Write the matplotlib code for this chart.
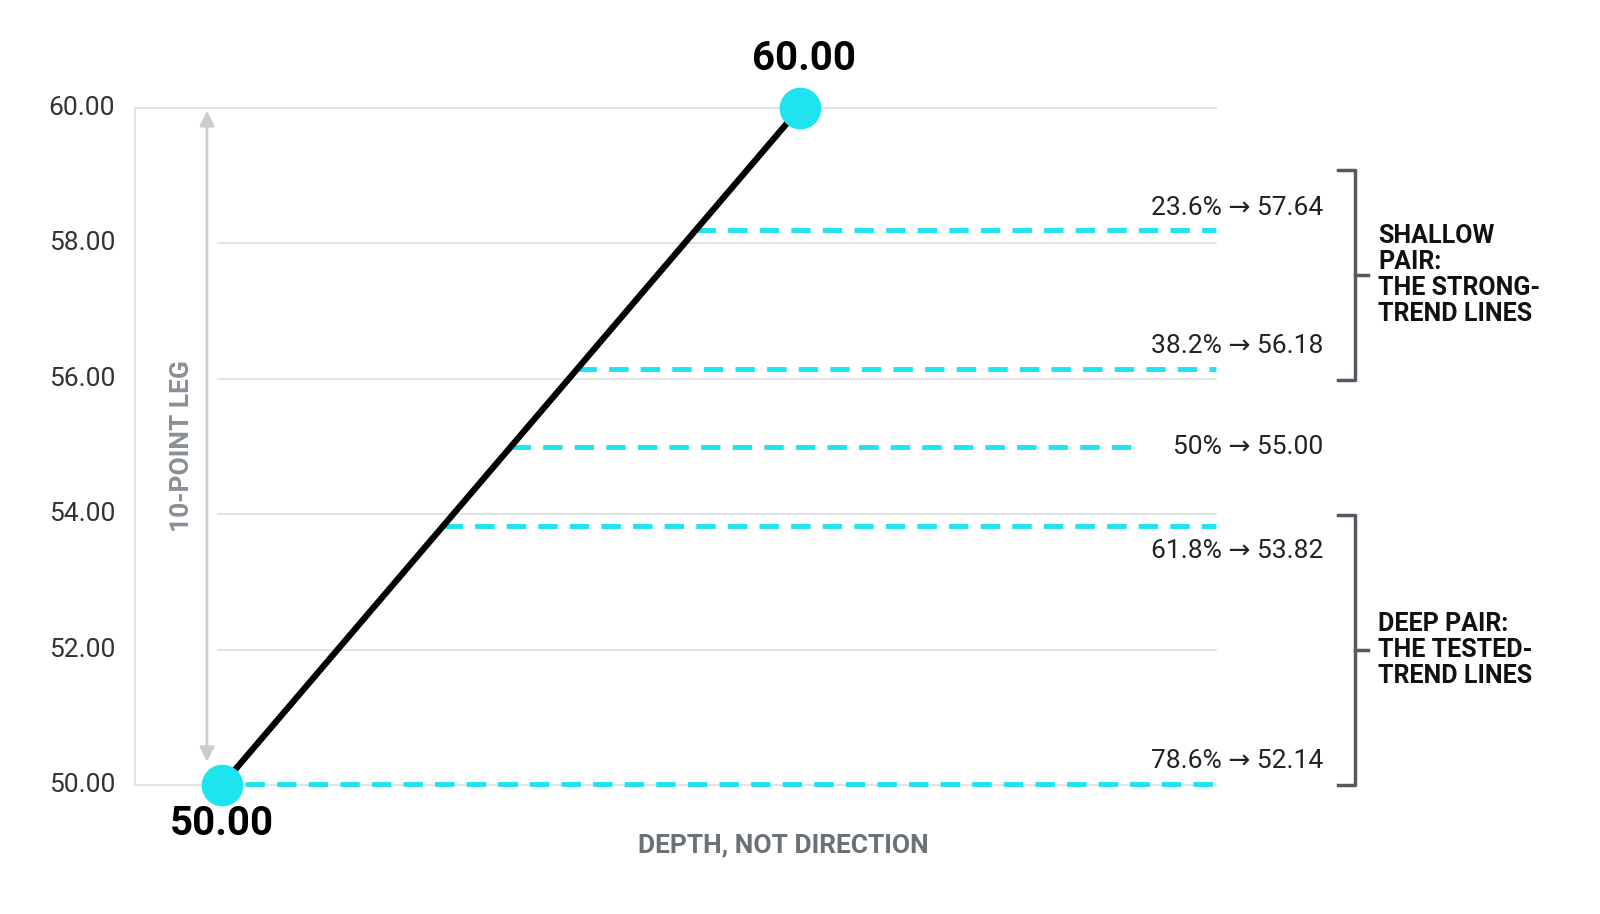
import matplotlib
matplotlib.use("Agg")
import matplotlib.pyplot as plt

LOW, HIGH = 50.0, 60.0
YTICKS = [50, 52, 54, 56, 58, 60]
# levels as drawn on the chart, and their labels
LEVEL_Y = [58.2, 56.15, 55.0, 53.82, 50.02]
LEVEL_LABELS = ["23.6% \u2192 57.64", "38.2% \u2192 56.18", "50% \u2192 55.00",
                "61.8% \u2192 53.82", "78.6% \u2192 52.14"]
LEVEL_END = [1216, 1216, 1137, 1216, 1216]
LABEL_POS = ["above", "above", "center", "below", "above"]

CYAN = "#1de4ee"
GREY = "#6b7178"
GRID = "#dcdfe3"
plt.rcParams["font.family"] = ["Roboto", "DejaVu Sans"]

fig = plt.figure(figsize=(16, 9.14), dpi=100)
# x in pixel units, y in price units
ax = fig.add_axes([0, (914 - 785) / 914, 1, (785 - 108) / 914])
ax.set_xlim(0, 1600)
ax.set_ylim(LOW, HIGH)
ax.axis("off")

X0, X1 = 222, 800
for t in YTICKS:
    start = 135 if t in (50, 60) else 218
    ax.plot([start, 1216], [t, t], color=GRID, lw=1.2, zorder=1, clip_on=False)
    ax.text(115, t, f"{t:.2f}", ha="right", va="center", fontsize=19, color="#333333")
ax.plot([135, 135], [LOW, HIGH], color=GRID, lw=1.2, zorder=1)

# 10-point leg arrow
ax.annotate("", xy=(207, HIGH), xytext=(207, LOW + 0.3),
            arrowprops=dict(arrowstyle="<|-|>", color="#c9cdd3", lw=2, mutation_scale=22))
ax.text(182, 55.0, "10-POINT LEG", rotation=90, ha="center", va="center",
        fontsize=19, fontweight="bold", color="#8a9098")

# swing leg
ax.plot([X0, X1], [LOW, HIGH], color="black", lw=4.5, zorder=3, clip_on=False)
ax.plot([X0, X1], [LOW, HIGH], "o", color=CYAN, ms=29, zorder=4, lw=0, clip_on=False)
ax.text(X1 + 4, HIGH + 0.45, f"{HIGH:.2f}", ha="center", va="bottom", fontsize=29, fontweight="bold")
ax.text(X0, LOW - 0.3, f"{LOW:.2f}", ha="center", va="top", fontsize=29, fontweight="bold")

for y, lab, end, pos in zip(LEVEL_Y, LEVEL_LABELS, LEVEL_END, LABEL_POS):
    xs = X0 + (y - LOW) / (HIGH - LOW) * (X1 - X0)
    if y < LOW + 0.1:
        xs = 245
    ax.plot([xs, end], [y, y], color=CYAN, lw=3.5, ls=(0, (4, 2.5)), zorder=2, clip_on=False)
    if pos == "below":
        ax.text(1323, y - 0.18, lab, ha="right", va="top", fontsize=19, color="#222222")
    elif pos == "center":
        ax.text(1323, y, lab, ha="right", va="center", fontsize=19, color="#222222")
    else:
        ax.text(1323, y + 0.15, lab, ha="right", va="bottom", fontsize=19, color="#222222")

def bracket(ytop, ybot, ymid, text):
    ax.plot([1338, 1355, 1355, 1338], [ytop, ytop, ybot, ybot], color="#555a60", lw=2.5, clip_on=False)
    ax.plot([1355, 1368], [ymid, ymid], color="#555a60", lw=2.5, clip_on=False)
    ax.text(1378, ymid, text, ha="left", va="center", fontsize=18, fontweight="bold",
            linespacing=1.1, color="#111111")

px = lambda p: HIGH - (p - 108) / 67.7
bracket(px(170), px(380), px(275), "SHALLOW\nPAIR:\nTHE STRONG-\nTREND LINES")
bracket(px(515), px(785), px(650), "DEEP PAIR:\nTHE TESTED-\nTREND LINES")

fig.text(783 / 1600, 1 - 845 / 914, "DEPTH, NOT DIRECTION", ha="center", va="center",
         fontsize=19, fontweight="bold", color=GREY)

fig.savefig("out.png", dpi=100)
